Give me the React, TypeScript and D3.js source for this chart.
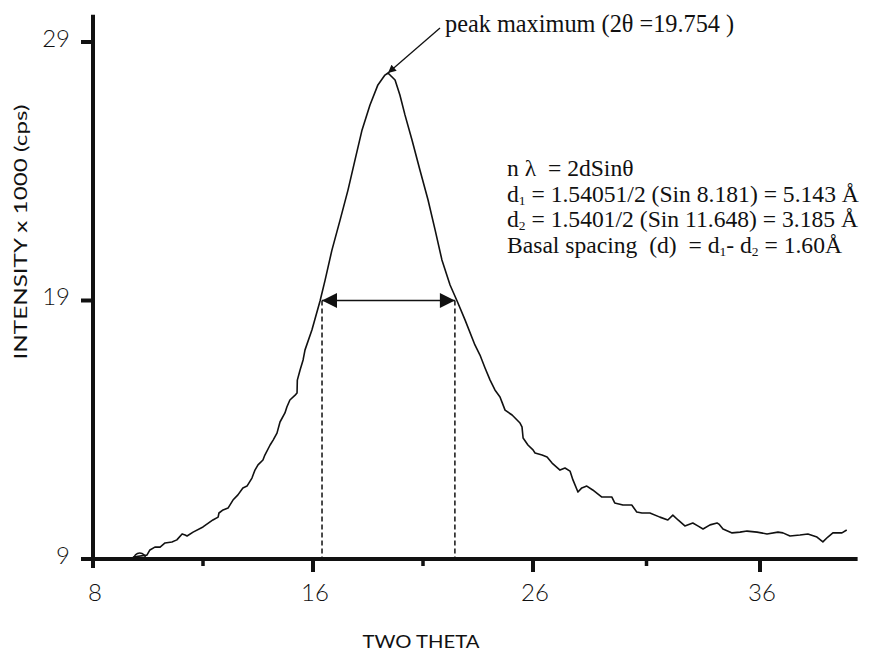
import React, { useEffect, useRef } from 'react';
import * as d3 from 'd3';

// XRD scan
const twoTheta = [9.45, 9.96, 10.07, 10.25, 10.44, 10.62, 10.87, 11.05, 11.24, 11.35, 11.42, 11.64, 12.0, 12.36, 12.55, 12.58, 12.73, 12.91, 13.09, 13.27, 13.45, 13.6, 13.78, 13.89, 14.0, 14.18, 14.25, 14.44, 14.55, 14.69, 14.8, 14.98, 15.05, 15.16, 15.35, 15.42, 15.43, 15.53, 15.64, 15.71, 15.96, 16.32, 16.55, 16.86, 17.23, 17.59, 17.91, 18.23, 18.59, 18.95, 19.27, 19.41, 19.73, 19.95, 20.18, 20.5, 20.86, 21.23, 21.55, 21.86, 22.23, 22.55, 22.91, 23.36, 23.59, 23.82, 24.05, 24.27, 24.5, 24.59, 24.73, 25.05, 25.41, 25.5, 25.55, 25.77, 26.0, 26.09, 26.4, 26.62, 26.84, 27.19, 27.41, 27.63, 27.76, 27.98, 28.15, 28.37, 28.63, 29.02, 29.47, 29.6, 29.96, 30.35, 30.57, 30.8, 31.15, 31.59, 31.94, 32.16, 32.39, 32.69, 33.04, 33.26, 33.49, 33.8, 34.11, 34.19, 34.37, 34.77, 35.12, 35.43, 35.87, 36.31, 36.79, 37.01, 37.32, 37.76, 38.11, 38.51, 38.77, 38.99, 39.21, 39.61, 39.82];
const intensity = [9.08, 9.15, 9.35, 9.46, 9.46, 9.62, 9.66, 9.74, 9.97, 9.93, 9.89, 10.04, 10.24, 10.51, 10.62, 10.78, 10.9, 10.97, 11.28, 11.48, 11.75, 11.82, 12.13, 12.44, 12.64, 12.83, 13.02, 13.41, 13.6, 13.87, 14.3, 14.65, 14.88, 15.15, 15.34, 15.42, 15.92, 16.31, 16.7, 17.09, 17.86, 18.98, 19.79, 20.95, 22.11, 23.27, 24.44, 25.6, 26.56, 27.34, 27.72, 27.8, 27.53, 26.95, 26.18, 25.21, 24.05, 22.89, 21.73, 20.57, 19.6, 18.98, 18.25, 17.28, 16.89, 16.39, 15.92, 15.54, 15.27, 15.07, 14.76, 14.57, 14.26, 14.11, 13.68, 13.41, 13.22, 13.1, 13.02, 12.95, 12.71, 12.44, 12.52, 12.4, 12.06, 11.59, 11.75, 11.82, 11.67, 11.4, 11.4, 11.17, 11.09, 11.09, 10.82, 10.78, 10.78, 10.62, 10.51, 10.7, 10.51, 10.28, 10.39, 10.28, 10.16, 10.32, 10.39, 10.35, 10.16, 10.01, 10.04, 10.08, 10.04, 9.97, 10.04, 10.01, 9.89, 9.93, 9.97, 9.85, 9.66, 9.85, 10.01, 10.01, 10.12];

const xMajorTicks = [8, 16, 26, 36];
const xMinorTicks = [12, 21, 31];
const yTicks = [9, 19, 29];

const peakTheta = 19.41;
const peakIntensity = 27.8;
const halfMax = 19;
const fwhmLeft = 16.41;
const fwhmRight = 22.45;

const formulaLines = [
  [['n λ  = 2dSinθ', false]],
  [['d', false], ['1', true], [' = 1.54051/2 (Sin 8.181) = 5.143 Å', false]],
  [['d', false], ['2', true], [' = 1.5401/2 (Sin 11.648) = 3.185 Å', false]],
  [['Basal spacing  (d)  = d', false], ['1', true], ['- d', false], ['2', true], [' = 1.60Å', false]],
];

export default function App() {
  const ref = useRef<SVGSVGElement>(null);

  useEffect(() => {
    const svg = d3.select(ref.current);
    svg.selectAll('*').remove();

    // the original axis is not linear: ticks are evenly spaced while labels are 8,16,26,36
    const x = d3.scaleLinear().domain([8, 16, 26, 36]).range([93, 313, 533, 760]);
    const y = d3.scaleLinear().domain([9, 29]).range([559, 42]);

    const defs = svg.append('defs');
    defs
      .append('marker')
      .attr('id', 'tri')
      .attr('viewBox', '0 0 10 10')
      .attr('refX', 10)
      .attr('refY', 5)
      .attr('markerUnits', 'userSpaceOnUse')
      .attr('markerWidth', 18)
      .attr('markerHeight', 15)
      .attr('orient', 'auto-start-reverse')
      .append('path')
      .attr('d', 'M0,0 L10,5 L0,10 Z')
      .attr('fill', '#111');
    defs
      .append('marker')
      .attr('id', 'small')
      .attr('viewBox', '0 0 10 10')
      .attr('refX', 10)
      .attr('refY', 5)
      .attr('markerUnits', 'userSpaceOnUse')
      .attr('markerWidth', 11)
      .attr('markerHeight', 8)
      .attr('orient', 'auto')
      .append('path')
      .attr('d', 'M0,0 L10,5 L0,10 Z')
      .attr('fill', '#111');

    // axes
    svg
      .append('line')
      .attr('x1', x(8)).attr('x2', x(8))
      .attr('y1', y(30.05)).attr('y2', y(8.8))
      .attr('stroke', '#111').attr('stroke-width', 4);
    svg
      .append('line')
      .attr('x1', x(7.6)).attr('x2', x(40.3))
      .attr('y1', y(9)).attr('y2', y(9))
      .attr('stroke', '#111').attr('stroke-width', 4);

    svg
      .selectAll('.ytick')
      .data(yTicks)
      .join('line')
      .attr('x1', x(8) - 12).attr('x2', x(8))
      .attr('y1', d => y(d)).attr('y2', d => y(d))
      .attr('stroke', '#111').attr('stroke-width', 4);
    svg
      .selectAll('.ylab')
      .data(yTicks)
      .join('text')
      .attr('x', x(8) - 23)
      .attr('y', d => y(d) - 4)
      .attr('dy', '0.36em')
      .attr('text-anchor', 'end')
      .attr('font-family', 'Lato, sans-serif')
      .attr('font-weight', 300)
      .attr('font-size', 24)
      .attr('fill', '#111')
      .text(d => d);

    svg
      .selectAll('.xmaj')
      .data(xMajorTicks)
      .join('line')
      .attr('x1', d => x(d)).attr('x2', d => x(d))
      .attr('y1', y(9)).attr('y2', (d, i) => y(9) + (i === 0 ? 9 : 13))
      .attr('stroke', '#111').attr('stroke-width', 4);
    svg
      .selectAll('.xmin')
      .data(xMinorTicks)
      .join('line')
      .attr('x1', d => x(d)).attr('x2', d => x(d))
      .attr('y1', y(9)).attr('y2', y(9) + 7)
      .attr('stroke', '#111').attr('stroke-width', 3.5);
    svg
      .selectAll('.xlab')
      .data(xMajorTicks)
      .join('text')
      .attr('x', d => x(d) + 2)
      .attr('y', y(9) + 42)
      .attr('text-anchor', 'middle')
      .attr('font-family', 'Lato, sans-serif')
      .attr('font-weight', 300)
      .attr('font-size', 24)
      .attr('fill', '#111')
      .text(d => d);

    svg
      .append('text')
      .attr('x', 421)
      .attr('y', 648)
      .attr('text-anchor', 'middle')
      .attr('font-family', 'Lato, sans-serif')
      .attr('font-size', 18)
      .attr('textLength', 117)
      .attr('lengthAdjust', 'spacingAndGlyphs')
      .attr('fill', '#111')
      .text('TWO THETA');
    svg
      .append('text')
      .attr('transform', 'translate(27,232) rotate(-90)')
      .attr('text-anchor', 'middle')
      .attr('font-family', 'Lato, sans-serif')
      .attr('font-size', 18)
      .attr('textLength', 255)
      .attr('lengthAdjust', 'spacingAndGlyphs')
      .attr('fill', '#111')
      .text('INTENSITY x 1000 (cps)');

    // the scan
    const pts = twoTheta.map((t, i) => [t, intensity[i]] as [number, number]);
    svg
      .append('path')
      .datum(pts)
      .attr('d', d3.line<[number, number]>().x(d => x(d[0])).y(d => y(d[1])))
      .attr('fill', 'none')
      .attr('stroke', '#111')
      .attr('stroke-width', 1.6)
      .attr('stroke-linejoin', 'round');
    svg
      .append('path')
      .attr('d', d3.arc()({ innerRadius: 6, outerRadius: 6, startAngle: -Math.PI / 2, endAngle: Math.PI / 2 }))
      .attr('transform', `translate(${x(9.7)},${y(9)})`)
      .attr('fill', 'none')
      .attr('stroke', '#111')
      .attr('stroke-width', 1.5);

    // FWHM arrow and dashed drops
    svg
      .selectAll('.drop')
      .data([fwhmLeft, fwhmRight])
      .join('line')
      .attr('x1', d => x(d)).attr('x2', d => x(d))
      .attr('y1', y(halfMax)).attr('y2', y(9) - 2)
      .attr('stroke', '#111')
      .attr('stroke-width', 1.5)
      .attr('stroke-dasharray', '5,3');
    svg
      .append('line')
      .attr('x1', x(fwhmLeft)).attr('x2', x(fwhmRight))
      .attr('y1', y(halfMax)).attr('y2', y(halfMax))
      .attr('stroke', '#111')
      .attr('stroke-width', 1.5)
      .attr('marker-start', 'url(#tri)')
      .attr('marker-end', 'url(#tri)');

    // peak callout
    svg
      .append('line')
      .attr('x1', 440).attr('y1', 28)
      .attr('x2', x(peakTheta)).attr('y2', y(peakIntensity))
      .attr('stroke', '#111')
      .attr('stroke-width', 1.3)
      .attr('marker-end', 'url(#small)');
    svg
      .append('text')
      .attr('x', 445)
      .attr('y', 32)
      .attr('font-family', '"Liberation Serif", serif')
      .attr('font-size', 24.3)
      .attr('fill', '#111')
      .style('white-space', 'pre')
      .text('peak maximum (2θ =19.754 )');

    // one text per formula line
    formulaLines.forEach((line, i) => {
      const row = svg
        .append('text')
        .attr('x', 507)
        .attr('y', 176 + i * 25.6)
        .attr('font-family', '"Liberation Serif", serif')
        .attr('font-size', 23.6)
        .attr('fill', '#111')
        .style('white-space', 'pre');
      line.forEach(([s, sub]) => {
        const t = row.append('tspan').text(s as string);
        if (sub) t.attr('font-size', 13.5).attr('baseline-shift', -2.5);
      });
    });
  }, []);

  return (
    <svg
      ref={ref}
      width={877}
      height={651}
      style={{ position: 'absolute', left: 0, top: 0, background: '#fff' }}
    />
  );
}
